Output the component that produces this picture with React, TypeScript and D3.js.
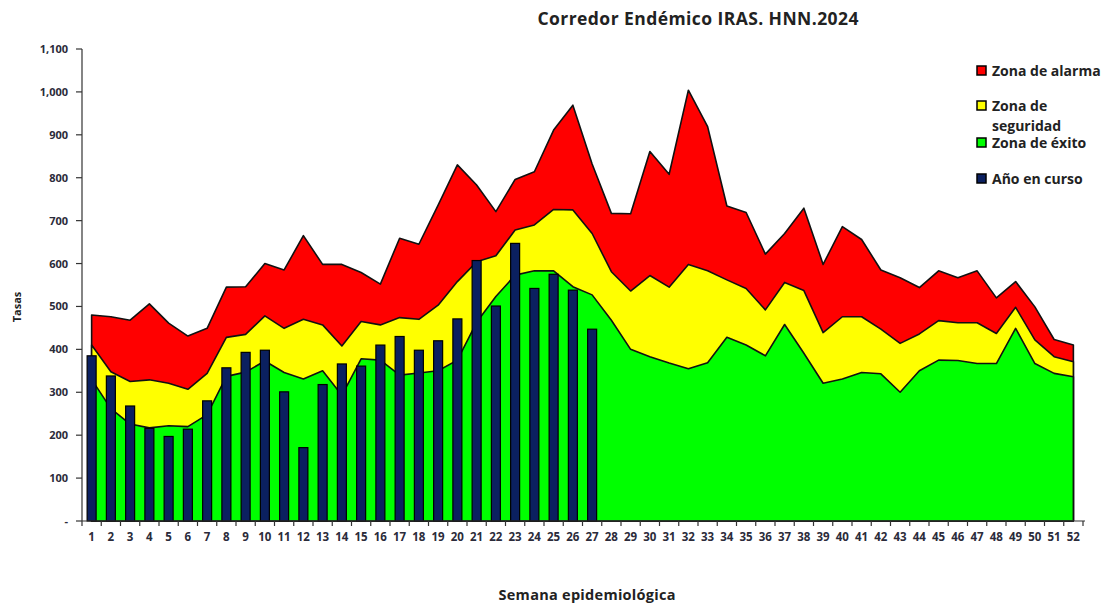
import React, { useRef, useEffect } from 'react';
import * as d3 from 'd3';

const weeks = d3.range(1, 53);

// upper limit of each zone (cumulative rates)
const exito = [330, 262, 226, 217, 222, 220, 248, 337, 347, 373, 346, 331, 350, 293, 378, 375, 340, 345, 350, 375,
  463, 523, 573, 583, 583, 546, 527, 468, 400, 383, 368, 355, 369, 428, 410, 385, 458, 391, 321, 331,
  346, 343, 300, 350, 375, 374, 367, 367, 449, 367, 344, 336];
const seguridad = [410, 348, 325, 329, 321, 307, 344, 428, 435, 478, 449, 470, 457, 408, 465, 457, 474, 470, 503, 558,
  604, 618, 678, 690, 726, 725, 670, 581, 536, 572, 545, 598, 583, 562, 542, 492, 556, 537, 439, 476,
  476, 447, 414, 436, 467, 462, 462, 437, 498, 422, 383, 371];
const alarma = [480, 476, 468, 506, 461, 431, 449, 545, 546, 600, 585, 665, 598, 598, 579, 552, 659, 645, 736, 830,
  783, 721, 796, 814, 911, 969, 832, 717, 716, 861, 808, 1004, 919, 734, 719, 622, 670, 729, 598, 686,
  656, 585, 567, 544, 583, 567, 583, 520, 558, 499, 423, 410];
const anioEnCurso = [385, 338, 268, 216, 197, 214, 280, 357, 393, 398, 301, 171, 318, 366, 361, 410, 430, 398, 420, 471,
  607, 501, 647, 542, 575, 538, 447];

const yTicks = d3.range(0, 1101, 100);

const legendItems = [
  { lines: ['Zona de alarma'], color: '#ff0000', y: 71 },
  { lines: ['Zona de', 'seguridad'], color: '#ffff00', y: 106 },
  { lines: ['Zona de éxito'], color: '#00ff00', y: 143 },
  { lines: ['Año en curso'], color: '#0b2060', y: 179 },
];

const FONT = '"Open Sans", Lato, sans-serif';
const TEXT_COLOR = '#2b2b3a';

const App = () => {
  const ref = useRef(null);

  useEffect(() => {
    const svg = d3.select(ref.current);
    svg.selectAll('*').remove();

    const x = d3.scaleBand().domain(weeks.map(String)).range([82, 1083]).padding(0);
    const cx = (w) => x(String(w)) + x.bandwidth() / 2;
    const y = d3.scaleLinear().domain([0, 1100]).range([521, 49]);

    svg.append('text')
      .attr('x', 698).attr('y', 25)
      .attr('text-anchor', 'middle')
      .attr('textLength', 321)
      .style('font-family', FONT).style('font-weight', 'bold').style('font-size', '17.5px')
      .style('fill', '#222')
      .text('Corredor Endémico IRAS. HNN.2024');

    const zoneArea = d3.area()
      .x((d, i) => cx(weeks[i]))
      .y0(y(0))
      .y1(d => y(d));

    [[alarma, '#ff0000'], [seguridad, '#ffff00'], [exito, '#00ff00']].forEach(([vals, color]) => {
      svg.append('path')
        .datum(vals)
        .attr('d', zoneArea)
        .attr('fill', color)
        .attr('stroke', '#111')
        .attr('stroke-width', 1.6)
        .attr('stroke-linejoin', 'round');
    });

    const bw = 9;
    svg.selectAll('rect.bar')
      .data(anioEnCurso)
      .enter()
      .append('rect')
      .attr('class', 'bar')
      .attr('x', (d, i) => cx(weeks[i]) - bw / 2)
      .attr('y', d => y(d))
      .attr('width', bw)
      .attr('height', d => y(0) - y(d))
      .attr('fill', '#0b2060')
      .attr('stroke', '#000')
      .attr('stroke-width', 1.2);

    // y axis
    const yAxis = svg.append('g');
    yAxis.append('line')
      .attr('x1', 82).attr('x2', 82).attr('y1', y(1100)).attr('y2', y(0))
      .attr('stroke', '#333').attr('stroke-width', 1.2);
    yTicks.forEach(t => {
      yAxis.append('line')
        .attr('x1', 76).attr('x2', 82).attr('y1', y(t)).attr('y2', y(t))
        .attr('stroke', '#333').attr('stroke-width', 1.2);
      yAxis.append('text')
        .attr('x', 68).attr('y', y(t) + 4)
        .attr('text-anchor', 'end')
        .style('font-family', FONT).style('font-weight', 'bold').style('font-size', '11px')
        .style('fill', TEXT_COLOR)
        .text(t === 0 ? '-' : d3.format(',')(t));
    });

    // x axis
    const xAxis = svg.append('g');
    xAxis.append('line')
      .attr('x1', 82).attr('x2', 1085).attr('y1', y(0)).attr('y2', y(0))
      .attr('stroke', '#333').attr('stroke-width', 1.2);
    weeks.concat([53]).forEach((w, i) => {
      const bx = 82 + i * x.bandwidth();
      xAxis.append('line')
        .attr('x1', bx).attr('x2', bx).attr('y1', y(0)).attr('y2', y(0) + 5)
        .attr('stroke', '#333').attr('stroke-width', 1.2);
    });
    weeks.forEach(w => {
      xAxis.append('text')
        .attr('x', cx(w)).attr('y', 541)
        .attr('text-anchor', 'middle')
        .style('font-family', FONT).style('font-weight', 'bold').style('font-size', '11.5px')
        .style('fill', TEXT_COLOR)
        .text(w);
    });

    svg.append('text')
      .attr('x', 587).attr('y', 600)
      .attr('text-anchor', 'middle')
      .attr('textLength', 177)
      .style('font-family', FONT).style('font-weight', 'bold').style('font-size', '14.5px')
      .style('fill', '#222')
      .text('Semana epidemiológica');

    svg.append('text')
      .attr('transform', 'translate(21,307) rotate(-90)')
      .attr('text-anchor', 'middle')
      .style('font-family', FONT).style('font-weight', 'bold').style('font-size', '11px')
      .style('fill', '#222')
      .text('Tasas');

    // legend
    const legend = svg.append('g');
    legendItems.forEach(item => {
      legend.append('rect')
        .attr('x', 977).attr('y', item.y - 5)
        .attr('width', 9).attr('height', 9)
        .attr('fill', item.color)
        .attr('stroke', '#000').attr('stroke-width', 1.5);
      item.lines.forEach((l, j) => {
        legend.append('text')
          .attr('x', 992).attr('y', item.y + 5 + j * 20)
          .style('font-family', FONT).style('font-weight', 'bold').style('font-size', '14px')
          .style('fill', '#222')
          .text(l);
      });
    });
  }, []);

  return (
    <svg
      ref={ref}
      width={1108}
      height={605}
      style={{ position: 'absolute', left: 0, top: 0, background: '#fff' }}
    />
  );
};

export default App;
